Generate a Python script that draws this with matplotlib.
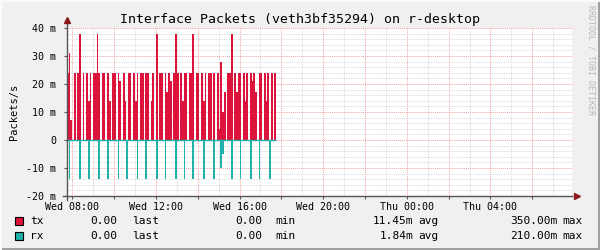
import matplotlib.pyplot as plt
import numpy as np
from matplotlib.patches import Rectangle

# packets/s, in milli units (5 minute steps starting Wed 07:45)
start_hour = 7.75
step_min = 5
tx = [24, 31, 7, 0, 24, 0, 24, 38, 0, 24, 0, 24, 14, 24, 0, 24, 24, 38, 24, 0,
      24, 24, 0, 24, 14, 0, 24, 24, 0, 24, 21, 0, 24, 14, 0, 24, 24, 0, 24, 14,
      24, 0, 24, 24, 0, 24, 24, 0, 14, 24, 0, 38, 0, 24, 24, 0, 24, 17, 24, 21,
      0, 24, 38, 24, 0, 24, 14, 24, 24, 0, 24, 24, 38, 0, 24, 24, 0, 24, 14, 24,
      0, 24, 24, 0, 24, 0, 24, 4, 28, 10, 17, 0, 24, 24, 38, 0, 24, 17, 24, 24,
      0, 24, 14, 24, 0, 24, 21, 24, 17, 0, 24, 24, 0, 24, 14, 24, 0, 24, 0, 24]
rx_spike_idx = [1, 7, 12, 18, 23, 29, 34, 40, 45, 51, 56, 62, 67, 72, 78, 84,
                94, 99, 105, 110, 116]
rx_small = {88: -10, 89: -5}

rx = np.zeros(len(tx))
rx[rx_spike_idx] = -14
for k, v in rx_small.items():
    rx[k] = v

edges = start_hour + np.arange(len(tx) + 1) * step_min / 60

ytick_vals = [-20, -10, 0, 10, 20, 30, 40]
ytick_labels = ['-20 m', '-10 m', '0', '10 m', '20 m', '30 m', '40 m']
xtick_vals = list(range(8, 32, 2))
xtick_labels = ['Wed 08:00', '', 'Wed 12:00', '', 'Wed 16:00', '', 'Wed 20:00', '',
                'Thu 00:00', '', 'Thu 04:00', '']

legend_names = ['tx', 'rx']
legend_last = ['0.00', '0.00']
legend_min = ['0.00', '0.00']
legend_avg = ['11.45m', '1.84m']
legend_max = ['350.00m', '210.00m']

c_tx = '#DC143C'
c_rx = '#20B2AA'
back = '#F0F0F0'
mono = 'DejaVu Sans Mono'

W, H = 600, 250
fig = plt.figure(figsize=(6, 2.5), dpi=100, facecolor=back)
ax = fig.add_axes([67 / W, 1 - 196 / H, 505 / W, 168 / H])
ax.set_facecolor('white')

ax.stairs(tx, edges, fill=True, color=c_tx, zorder=3, lw=0)
ax.stairs(rx, edges, fill=True, color=c_rx, zorder=3, lw=0)
ax.hlines(0, edges[0], edges[-1], color=c_rx, lw=1, zorder=4)

ax.set_xlim(start_hour, start_hour + 24.15)
ax.set_ylim(-20, 40)

ax.set_xticks(xtick_vals)
ax.set_xticklabels(xtick_labels, fontfamily=mono, fontsize=7.2)
ax.set_xticks(np.arange(8, 32, 1), minor=True)
ax.set_yticks(ytick_vals)
ax.set_yticklabels(ytick_labels, fontfamily=mono, fontsize=7.2)
ax.set_yticks(np.arange(-20, 41, 2), minor=True)
ax.tick_params(which='major', length=2, width=0.8, color='#555555', pad=2)
ax.tick_params(axis='y', which='major', pad=6)
ax.tick_params(which='minor', length=0)
ax.set_axisbelow(True)
ax.grid(which='minor', color='#d2d2d2', ls=(0, (1, 1)), lw=0.6)
ax.grid(which='major', color='#f4a0a0', ls=(0, (1, 1)), lw=0.7)
for s in ax.spines.values():
    s.set_visible(False)

ax.set_ylabel('Packets/s', fontfamily=mono, fontsize=7.5, labelpad=5)

# axis lines with arrow heads
ax.plot([-0.008, 1.0], [0, 0], transform=ax.transAxes, color='#555555', lw=1,
        clip_on=False, zorder=5)
ax.plot([1.01], [0], transform=ax.transAxes, marker='>', ms=4, color='#8b1a1a',
        clip_on=False, zorder=6)
ax.plot([0, 0], [-0.024, 1.03], transform=ax.transAxes, color='#555555', lw=1,
        clip_on=False, zorder=5)
ax.plot([0], [1.045], transform=ax.transAxes, marker='^', ms=4, color='#8b1a1a',
        clip_on=False, zorder=6)

fig.text(0.5, 1 - 19 / H, 'Interface Packets (veth3bf35294) on r-desktop',
         ha='center', va='center', fontfamily=mono, fontsize=9.5)
fig.text(591 / W, 1 - 5 / H, 'RRDTOOL / TOBI OETIKER', rotation=270,
         ha='center', va='top', fontfamily=mono, fontsize=6, color='#b8b8b8')

# legend rows
row_y = [221, 236]
for i, name in enumerate(legend_names):
    yy = 1 - row_y[i] / H
    col = [c_tx, c_rx][i]
    fig.patches.append(Rectangle((15 / W, 1 - (row_y[i] + 4) / H), 8 / W, 8 / H,
                                 transform=fig.transFigure, facecolor=col,
                                 edgecolor='black', lw=0.8))
    kw = dict(va='center', fontfamily=mono, fontsize=8)
    fig.text(30 / W, yy, name, ha='left', **kw)
    fig.text(117 / W, yy, legend_last[i], ha='right', **kw)
    fig.text(132 / W, yy, 'last', ha='left', **kw)
    fig.text(262 / W, yy, legend_min[i], ha='right', **kw)
    fig.text(275 / W, yy, 'min', ha='left', **kw)
    fig.text(413 / W, yy, legend_avg[i], ha='right', **kw)
    fig.text(418 / W, yy, 'avg', ha='left', **kw)
    fig.text(557 / W, yy, legend_max[i], ha='right', **kw)
    fig.text(562 / W, yy, 'max', ha='left', **kw)

# 3d-ish outer frame
fig.patches.append(Rectangle((0, 0), 1, 2 / H, transform=fig.transFigure,
                             facecolor='#a0a0a0', lw=0))
fig.patches.append(Rectangle(((W - 2) / W, 0), 2 / W, 1, transform=fig.transFigure,
                             facecolor='#a0a0a0', lw=0))
fig.patches.append(Rectangle((0, (H - 2) / H), 1, 2 / H, transform=fig.transFigure,
                             facecolor='#fafafa', lw=0))
fig.patches.append(Rectangle((0, 0), 2 / W, 1, transform=fig.transFigure,
                             facecolor='#fafafa', lw=0))

fig.savefig('out.png', dpi=100, facecolor=back)
